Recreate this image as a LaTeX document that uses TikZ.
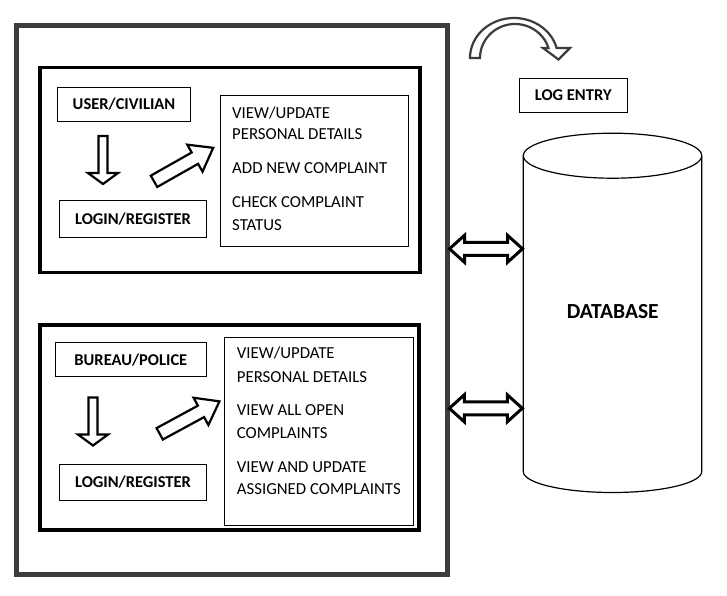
\documentclass[tikz,border=0pt]{standalone}
\usepackage{fontspec}
\setmainfont{Carlito}
\begin{document}
\begin{tikzpicture}[x=1pt,y=-1pt,
  outerline/.style={draw=dgrey, line width=5pt},
  groupbox/.style={draw=black, line width=3.5pt, inner sep=0pt},
  tbox/.style={draw=black, line width=1pt, inner sep=0pt, font=\fontsize{16.5}{22}\selectfont\bfseries},
  listbox/.style={draw=black, line width=1pt, inner sep=0pt},
  listtext/.style={inner sep=0pt, anchor=base west, font=\fontsize{16.8}{22}\selectfont},
  blockline/.style={draw=black, fill=white, line width=2.2pt, line join=miter},
  dblline/.style={draw=black, fill=white, line width=3pt, line join=miter},
  pics/downblock/.style={code={
    \draw[blockline] (-4.5,0) -- (4.5,0) -- (4.5,37) -- (15,37) -- (0,48) -- (-15,37) -- (-4.5,37) -- cycle;}},
  pics/diagblock/.style={code={
    \draw[blockline] (0,-6.5) -- (47,-6.5) -- (47,-15.5) -- (68,0) -- (47,15.5) -- (47,6.5) -- (0,6.5) -- cycle;}},
  pics/dblblock/.style={code={
    \draw[dblline] (0,0) -- (15,-13.5) -- (15,-6.5) -- (58,-6.5) -- (58,-13.5) -- (73,0) -- (58,13.5) -- (58,6.5) -- (15,6.5) -- (15,13.5) -- cycle;}}
]
\definecolor{dgrey}{RGB}{60,60,60}
\useasboundingbox[fill=white] (0,0) rectangle (727,595);

% outer application box
\node[outerline, minimum width=431pt, minimum height=549.5pt, inner sep=0pt] (app) at (232,299.75) {};

% upper group
\node[groupbox, minimum width=380pt, minimum height=205pt] (ugroup) at (230,170) {};
\node[tbox, minimum width=133.4pt, minimum height=34pt] (user) at (124,104.3) {USER/CIVILIAN};
\node[tbox, minimum width=147.4pt, minimum height=37.3pt] (ulogin) at (133,218.65) {LOGIN/REGISTER};
\node[listbox, minimum width=188.7pt, minimum height=151.4pt] (ulist) at (314.35,171) {};
\node[listtext] (u1a) at (232,118) {VIEW/UPDATE};
\node[listtext] (u1b) at (232,139.6) {PERSONAL DETAILS};
\node[listtext] (u2a) at (232,173.6) {ADD NEW COMPLAINT};
\node[listtext] (u3a) at (232,207.6) {CHECK COMPLAINT};
\node[listtext] (u3b) at (232,230.6) {STATUS};
\pic at (103,136) {downblock};
\pic[rotate=29.5] at (154,181.3) {diagblock};

% lower group
\node[groupbox, minimum width=379pt, minimum height=205pt] (lgroup) at (229.5,427.5) {};
\node[tbox, minimum width=151.7pt, minimum height=34pt] (police) at (130.85,359.7) {BUREAU/POLICE};
\node[tbox, minimum width=147.4pt, minimum height=36.3pt] (llogin) at (133,482.15) {LOGIN/REGISTER};
\node[listbox, minimum width=189.4pt, minimum height=188.4pt] (llist) at (319,431.5) {};
\node[listtext] (l1a) at (236.7,358.6) {VIEW/UPDATE};
\node[listtext] (l1b) at (236.7,382) {PERSONAL DETAILS};
\node[listtext] (l2a) at (236.7,415.3) {VIEW ALL OPEN};
\node[listtext] (l2b) at (236.7,438) {COMPLAINTS};
\node[listtext] (l3a) at (236.7,472) {VIEW AND UPDATE};
\node[listtext] (l3b) at (236.7,494.6) {ASSIGNED COMPLAINTS};
\pic at (93,397.5) {downblock};
\pic[rotate=28.5] at (159.7,433.8) {diagblock};

% database cylinder
\draw[line width=1.2pt] (523.3,155.7) -- (523.3,471.5)
  plot[domain=180:360, samples=60] ({612.5+89.2*cos(\x)}, {471.5-21*sin(\x)})
  -- (701.7,155.7);
\draw[line width=1.2pt] (612.5,155.7) ellipse [x radius=89.2, y radius=22.5];
\node[font=\fontsize{21.5}{26}\selectfont\bfseries, inner sep=0pt] (db) at (612.7,311.7) {DATABASE};

% double arrows
\pic at (449.5,248.8) {dblblock};
\pic at (449.3,408.3) {dblblock};

% log entry
\node[tbox, minimum width=108.3pt, minimum height=34pt] (log) at (573.2,95.3) {LOG ENTRY};
\draw[draw=dgrey, fill=white, line width=2.2pt, line join=miter]
  (470,58)
  -- plot[domain=180:14.5, samples=60] ({514+44*cos(\x)}, {58-40*sin(\x)})
  -- (570,48) -- (558.5,59.5) -- (543,48)
  -- plot[domain=17.1:180, samples=60] ({515+35*cos(\x)}, {58-34*sin(\x)})
  -- cycle;
\end{tikzpicture}
\end{document}
